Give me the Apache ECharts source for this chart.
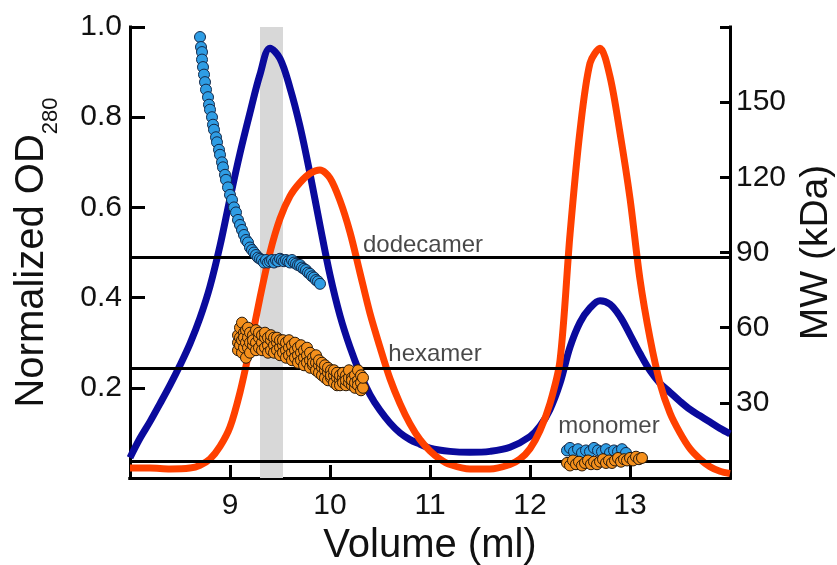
<!DOCTYPE html>
<html>
<head>
<meta charset="utf-8">
<script src="https://cdn.jsdelivr.net/npm/echarts@6/dist/echarts.min.js"></script>
<style>
  html, body { margin: 0; padding: 0; background: #fff; }
  #chart { width: 837px; height: 565px; }
</style>
</head>
<body>
<div id="chart"></div>
<script>
var FONT = 'Liberation Sans, Arial, Helvetica, sans-serif';

// OD280 traces (volume ml, normalized OD)
var dodecamerTrace = [
  [8.0, 0.045], [8.1, 0.088], [8.2, 0.125], [8.3, 0.165], [8.4, 0.206], [8.5, 0.25],
  [8.6, 0.298], [8.7, 0.355], [8.8, 0.425], [8.9, 0.515], [9.0, 0.62], [9.1, 0.72],
  [9.2, 0.81], [9.3, 0.895], [9.4, 0.953], [9.5, 0.93], [9.6, 0.865], [9.7, 0.78],
  [9.8, 0.675], [9.9, 0.56], [10.0, 0.45], [10.1, 0.36], [10.2, 0.29], [10.3, 0.232],
  [10.4, 0.185], [10.5, 0.15], [10.6, 0.122], [10.7, 0.10], [10.8, 0.085], [10.9, 0.075],
  [11.0, 0.066], [11.2, 0.059], [11.4, 0.057], [11.6, 0.059], [11.8, 0.068], [12.0, 0.092],
  [12.1, 0.115], [12.2, 0.152], [12.3, 0.21], [12.4, 0.29], [12.5, 0.345], [12.6, 0.377],
  [12.7, 0.393], [12.8, 0.385], [12.9, 0.358], [13.0, 0.318], [13.1, 0.276], [13.2, 0.238],
  [13.3, 0.21], [13.4, 0.19], [13.5, 0.17], [13.6, 0.152], [13.7, 0.138], [13.8, 0.124],
  [13.9, 0.11], [14.0, 0.098]
];
var hexamerTrace = [
  [8.0, 0.022], [8.2, 0.022], [8.4, 0.02], [8.6, 0.022], [8.7, 0.028], [8.8, 0.042],
  [8.9, 0.07], [9.0, 0.113], [9.1, 0.19], [9.2, 0.29], [9.3, 0.40], [9.4, 0.50],
  [9.5, 0.575], [9.6, 0.625], [9.7, 0.655], [9.8, 0.675], [9.9, 0.683], [10.0, 0.665],
  [10.1, 0.615], [10.2, 0.545], [10.3, 0.455], [10.4, 0.365], [10.5, 0.29], [10.6, 0.22],
  [10.7, 0.165], [10.8, 0.12], [10.9, 0.085], [11.0, 0.06], [11.1, 0.042], [11.2, 0.03],
  [11.4, 0.02], [11.6, 0.02], [11.8, 0.03], [11.9, 0.042], [12.0, 0.065], [12.1, 0.105],
  [12.2, 0.165], [12.3, 0.26], [12.4, 0.54], [12.5, 0.77], [12.6, 0.92], [12.7, 0.953],
  [12.8, 0.89], [12.9, 0.765], [13.0, 0.62], [13.1, 0.44], [13.2, 0.31], [13.3, 0.21],
  [13.4, 0.144], [13.5, 0.10], [13.6, 0.065], [13.7, 0.042], [13.8, 0.025], [13.9, 0.015],
  [14.0, 0.01]
];

// MW points (volume ml, kDa)
var dodecamerMW = [
  [8.70, 176], [8.71, 172], [8.72, 170], [8.72, 167], [8.73, 164], [8.74, 161], [8.75, 158],
  [8.76, 155], [8.78, 152], [8.79, 149], [8.80, 147], [8.82, 144], [8.83, 141], [8.84, 139],
  [8.86, 136], [8.87, 134], [8.89, 131], [8.90, 129], [8.92, 126], [8.93, 124], [8.95, 121],
  [8.96, 119], [8.98, 116], [9.00, 113], [9.02, 111], [9.04, 108], [9.06, 106], [9.08, 103],
  [9.10, 101], [9.12, 99], [9.14, 97], [9.16, 95], [9.18, 94], [9.20, 92], [9.22, 91],
  [9.24, 90], [9.26, 89], [9.28, 88], [9.30, 87.5], [9.32, 87], [9.34, 86], [9.36, 87],
  [9.38, 86], [9.40, 86.5], [9.42, 87], [9.44, 86], [9.46, 87], [9.48, 86.5], [9.50, 87.5],
  [9.52, 87], [9.54, 86.5], [9.56, 87], [9.58, 86.5], [9.60, 86], [9.62, 87], [9.64, 86],
  [9.66, 85.5], [9.68, 85], [9.70, 85], [9.72, 84], [9.74, 83.5], [9.76, 83], [9.78, 82],
  [9.80, 81.5], [9.82, 80.5], [9.84, 80], [9.86, 79], [9.88, 78.5], [9.90, 77.5]
];
var hexamerMW = [
  [9.08, 54], [9.08, 57], [9.08, 51], [9.10, 60], [9.10, 53], [9.10, 56],
  [9.12, 62], [9.12, 55], [9.12, 50], [9.14, 58], [9.14, 52], [9.14, 56],
  [9.16, 54], [9.16, 59], [9.16, 48], [9.18, 56], [9.18, 52], [9.18, 60],
  [9.20, 54], [9.20, 58], [9.20, 50], [9.23, 57], [9.23, 53], [9.23, 55],
  [9.26, 59], [9.26, 54], [9.26, 51], [9.29, 56], [9.29, 52], [9.29, 58],
  [9.32, 54], [9.32, 57], [9.32, 51], [9.35, 56], [9.35, 52], [9.35, 58],
  [9.38, 53], [9.38, 56], [9.38, 50], [9.41, 55], [9.41, 51], [9.41, 57],
  [9.44, 53], [9.44, 56], [9.44, 50], [9.47, 54], [9.47, 51], [9.47, 56],
  [9.50, 52], [9.50, 55], [9.50, 49], [9.53, 53], [9.53, 50], [9.53, 55],
  [9.56, 51], [9.56, 54], [9.56, 48], [9.59, 52], [9.59, 49], [9.59, 55],
  [9.62, 50], [9.62, 53], [9.62, 47], [9.65, 51], [9.65, 48], [9.65, 54],
  [9.68, 49], [9.68, 52], [9.68, 46], [9.71, 50], [9.71, 47], [9.71, 53],
  [9.74, 48], [9.74, 51], [9.74, 45], [9.77, 49], [9.77, 46], [9.77, 52],
  [9.80, 47], [9.80, 50], [9.80, 44], [9.83, 48], [9.83, 45], [9.83, 46],
  [9.86, 46], [9.86, 43], [9.86, 49], [9.89, 45], [9.89, 42], [9.89, 47],
  [9.92, 44], [9.92, 41], [9.92, 46], [9.95, 43], [9.95, 40], [9.95, 45],
  [9.98, 42], [9.98, 39], [9.98, 44], [10.01, 43], [10.01, 40], [10.01, 41],
  [10.04, 41], [10.04, 38], [10.04, 43], [10.07, 40], [10.07, 37], [10.07, 42],
  [10.10, 39], [10.10, 41], [10.10, 37], [10.13, 40], [10.13, 38], [10.13, 42],
  [10.16, 41], [10.16, 37], [10.16, 39], [10.19, 38], [10.19, 40], [10.19, 43],
  [10.22, 37], [10.22, 40], [10.22, 39], [10.25, 41], [10.25, 36], [10.25, 38],
  [10.28, 39], [10.28, 43], [10.28, 37], [10.31, 38], [10.31, 41], [10.31, 35],
  [10.33, 36], [10.33, 40]
];
var monomerBlueMW = [
  [12.37, 11], [12.40, 12], [12.44, 10.5], [12.48, 11.5], [12.52, 10], [12.56, 11],
  [12.60, 10.5], [12.64, 12], [12.68, 11], [12.72, 10.5], [12.76, 11.5], [12.80, 10],
  [12.84, 11], [12.88, 10.5], [12.92, 11.5], [12.96, 10]
];
var monomerOrangeMW = [
  [12.37, 6], [12.40, 5], [12.43, 7], [12.46, 5.5], [12.49, 6.5], [12.52, 5], [12.55, 6],
  [12.58, 7], [12.61, 5.5], [12.64, 6.5], [12.67, 5.5], [12.70, 6.5], [12.73, 7.5],
  [12.76, 6], [12.79, 7], [12.82, 6], [12.85, 7], [12.88, 8], [12.91, 6.5], [12.94, 7.5],
  [12.97, 7], [13.00, 8], [13.03, 7], [13.06, 8.5], [13.09, 7.5], [13.12, 8]
];

// oligomer reference levels (kDa) and their labels
var refLevels = [88, 44, 6.5];
var refNames = ['dodecamer', 'hexamer', 'monomer'];
var refLabelSpots = [[10.93, 93], [11.05, 49.5], [12.79, 20.8]];

var bandRange = [9.3, 9.53];
var xTicks = [9, 10, 11, 12, 13];

var chart = echarts.init(document.getElementById('chart'), null, { renderer: 'canvas' });

var frameLine = { show: true, lineStyle: { color: '#000', width: 3, cap: 'square' } };
var tickStyle = { color: '#000', width: 3 };

var option = {
  backgroundColor: '#ffffff',
  animation: false,
  grid: { left: 130, right: 107, top: 27, bottom: 87, outerBoundsMode: 'none', containLabel: false },
  xAxis: [{
    type: 'value', min: 8, max: 14, interval: 1,
    name: 'Volume (ml)', nameLocation: 'middle', nameGap: 48,
    nameTextStyle: { fontSize: 40, fontFamily: FONT, color: '#111' },
    axisLine: frameLine,
    axisTick: { show: true, inside: true, length: 13, lineStyle: tickStyle },
    axisLabel: {
      fontSize: 30, fontFamily: FONT, color: '#111', margin: 13,
      formatter: function (v) { return xTicks.indexOf(v) >= 0 ? String(v) : ''; }
    },
    splitLine: { show: false }
  }, {
    type: 'value', min: 8, max: 14, position: 'top',
    axisLine: frameLine, axisTick: { show: false }, axisLabel: { show: false },
    splitLine: { show: false }
  }],
  yAxis: [{
    type: 'value', min: 0, max: 1, interval: 0.2, position: 'left',
    name: '{a|Normalized OD}{s|280}', nameLocation: 'middle', nameGap: 76, nameRotate: 90,
    nameTextStyle: {
      fontSize: 40, fontFamily: FONT, color: '#111',
      rich: {
        a: { fontSize: 40, fontFamily: FONT, color: '#111', lineHeight: 42, verticalAlign: 'top' },
        s: { fontSize: 22, fontFamily: FONT, color: '#111', lineHeight: 22, padding: [28, 0, 0, 0], verticalAlign: 'top' }
      }
    },
    axisLine: frameLine,
    axisTick: { show: true, inside: true, length: 15, lineStyle: tickStyle },
    axisLabel: {
      fontSize: 30, fontFamily: FONT, color: '#111', margin: 8, showMinLabel: false,
      formatter: function (v) { return v.toFixed(1); }
    },
    splitLine: { show: false }
  }, {
    type: 'value', min: 0, max: 180, interval: 30, position: 'right',
    name: 'MW (kDa)', nameLocation: 'middle', nameGap: 64, nameRotate: 90,
    nameTextStyle: { fontSize: 39, fontFamily: FONT, color: '#111' },
    axisLine: frameLine,
    axisTick: { show: true, inside: true, length: 10, lineStyle: tickStyle },
    axisLabel: {
      fontSize: 30, fontFamily: FONT, color: '#111', margin: 6,
      formatter: function (v) { return (v === 0 || v === 180) ? '' : String(v); }
    },
    splitLine: { show: false }
  }],
  series: [
    {
      // grey fraction band
      type: 'line', data: [], z: 1, silent: true,
      markArea: {
        silent: true,
        itemStyle: { color: '#d8d8d8' },
        data: [[{ xAxis: bandRange[0] }, { xAxis: bandRange[1] }]]
      }
    },
    {
      name: 'dodecamer OD', type: 'line', data: dodecamerTrace, smooth: 0.35,
      showSymbol: false, z: 2,
      lineStyle: { color: '#0a0a9c', width: 7 }
    },
    {
      name: 'hexamer OD', type: 'line', data: hexamerTrace, smooth: 0.3,
      showSymbol: false, z: 3,
      lineStyle: { color: '#ff4000', width: 7 }
    },
    {
      // reference MW levels
      type: 'line', data: [], yAxisIndex: 1, z: 4, silent: true,
      markLine: {
        silent: true, symbol: 'none', label: { show: false },
        lineStyle: { color: '#000', width: 3, type: 'solid' },
        data: refLevels.map(function (v) { return { yAxis: v }; })
      }
    },
    {
      name: 'dodecamer MW', type: 'scatter', yAxisIndex: 1, data: dodecamerMW.concat(monomerBlueMW),
      symbolSize: 11, z: 5,
      itemStyle: { color: '#2f9de4', borderColor: '#13294a', borderWidth: 1, opacity: 1 }
    },
    {
      name: 'hexamer MW', type: 'scatter', yAxisIndex: 1, data: hexamerMW.concat(monomerOrangeMW),
      symbolSize: 11, z: 6,
      itemStyle: { color: '#f5901c', borderColor: '#2a1a0a', borderWidth: 1, opacity: 1 }
    },
    {
      type: 'scatter', yAxisIndex: 1, symbolSize: 0, z: 7, silent: true,
      data: refLabelSpots.map(function (p, i) { return { value: p, name: refNames[i] }; }),
      label: {
        show: true, position: 'inside', formatter: '{b}',
        fontSize: 24, fontFamily: FONT, color: '#1a1a1a'
      }
    }
  ]
};

chart.setOption(option);
</script>
</body>
</html>
